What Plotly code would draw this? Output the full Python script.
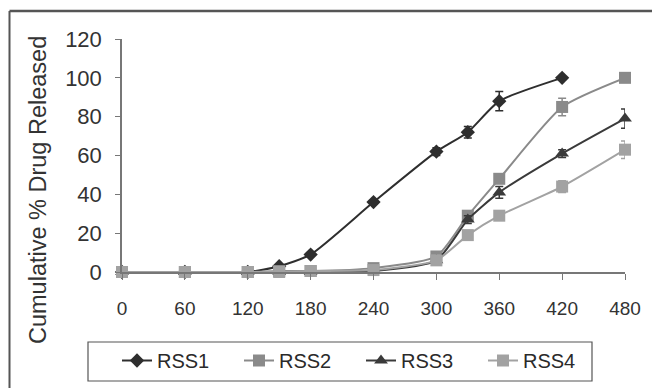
import plotly.graph_objects as go

time_min = [0, 60, 120, 150, 180, 240, 300, 330, 360, 420, 480]
rss1 = [0, 0, 0, 3, 9, 36, 62, 72, 88, 100, None]
rss2 = [0, 0, 0, 0.5, 0.5, 2, 8, 29, 48, 85, 100]
rss3 = [0, 0, 0, 0, 0, 0.5, 6, 27, 41, 61, 79]
rss4 = [0, 0, 0, 0, 0.5, 1, 6, 19, 29, 44, 63]
rss1_err = [0, 0, 0, 0, 0, 1, 2, 3, 5, 1, None]
rss2_err = [0, 0, 0, 0, 0, 1, 1, 2, 2, 4.5, 1]
rss3_err = [0, 0, 0, 0, 0, 0, 1, 2, 3, 2, 5]
rss4_err = [0, 0, 0, 0, 0, 0, 1, 1, 2, 3, 4.5]
series_names = ["RSS1", "RSS2", "RSS3", "RSS4"]
x_ticks = [0, 60, 120, 180, 240, 300, 360, 420, 480]
y_ticks = [0, 20, 40, 60, 80, 100, 120]

styles = [
    dict(color="#2e2e2e", symbol="diamond", size=11),
    dict(color="#8a8a8a", symbol="square", size=12),
    dict(color="#3a3a3a", symbol="triangle-up", size=12),
    dict(color="#a2a2a2", symbol="square", size=12),
]

fig = go.Figure()
for name, ys, err, st in zip(series_names, [rss1, rss2, rss3, rss4],
                             [rss1_err, rss2_err, rss3_err, rss4_err], styles):
    fig.add_trace(go.Scatter(
        x=time_min, y=ys, name=name, mode="lines+markers",
        line=dict(color=st["color"], width=2, shape="spline", smoothing=0.6),
        marker=dict(color=st["color"], symbol=st["symbol"], size=st["size"]),
        error_y=dict(type="data", array=err, visible=True, color=st["color"],
                     thickness=1.5, width=4),
        cliponaxis=False,
    ))

W, H = 652, 388
L, R, T, B = 122, 27, 39, 116
pw, ph = W - L - R, H - T - B


def px(x):
    return (x - L) / pw


def py(y):
    return (H - B - y) / ph


fig.update_layout(
    width=W, height=H,
    margin=dict(l=L, r=R, t=T, b=B, autoexpand=False),
    paper_bgcolor="white", plot_bgcolor="white",
    font=dict(family="Liberation Sans, Arial, sans-serif", color="#2a2a2a"),
    showlegend=True,
    legend=dict(
        orientation="h", x=px(117), xanchor="left", y=py(341), yanchor="top",
        borderwidth=0, bgcolor="rgba(0,0,0,0)",
        font=dict(size=20), entrywidth=77, entrywidthmode="pixels",
        itemclick=False,
    ),
    xaxis=dict(
        range=[0, 480], tickvals=x_ticks, ticks="outside", ticklen=6,
        tickcolor="#777777", showline=True, linecolor="#777777", linewidth=1.5,
        showgrid=False, zeroline=False, tickfont=dict(size=19, color="#333333"),
        ticklabelstandoff=12,
    ),
    yaxis=dict(
        range=[0, 120], tickvals=y_ticks, ticks="outside", ticklen=5,
        tickcolor="#777777", showline=True, linecolor="#777777", linewidth=1.5,
        showgrid=False, zeroline=False, tickfont=dict(size=22, color="#333333"),
        ticklabelstandoff=9,
    ),
    annotations=[dict(
        text="Cumulative % Drug Released", textangle=-90,
        xref="paper", yref="paper", x=px(38), y=py(190),
        xanchor="center", yanchor="middle", showarrow=False,
        font=dict(size=23.5, color="#333333"),
    )],
    shapes=[
        dict(type="line", xref="paper", yref="paper", x0=px(9.5), x1=px(9.5),
             y0=py(11), y1=py(400), line=dict(color="#555555", width=2)),
        dict(type="line", xref="paper", yref="paper", x0=px(9.5), x1=px(700),
             y0=py(11), y1=py(11), line=dict(color="#555555", width=2.5)),
        dict(type="rect", xref="paper", yref="paper", x0=px(88), x1=px(592),
             y0=py(342), y1=py(381), line=dict(color="#555555", width=1.2)),
    ],
)

fig.write_html("out.html", config={"displayModeBar": False},
               post_script="document.body.style.margin='0';")
